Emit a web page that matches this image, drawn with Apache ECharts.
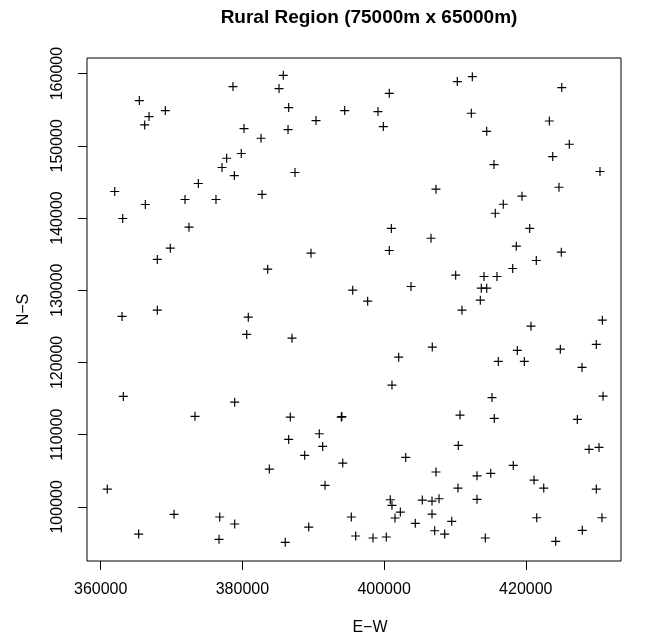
<!DOCTYPE html>
<html>
<head>
<meta charset="utf-8">
<script src="https://cdn.jsdelivr.net/npm/echarts@6/dist/echarts.min.js"></script>
<style>
  html, body { margin: 0; padding: 0; background: #fff; }
  #chart { width: 651px; height: 637px; }
</style>
</head>
<body>
<div id="chart"></div>
<script>
// Sample site locations (metres, projected grid)
const eastings = [
  378670, 365450, 366820, 369120, 366210, 380230, 382630, 379840, 377780, 377120,
  378860, 373780, 361980, 366300, 371900, 376270, 382770, 363110, 372460,
  385770, 385170, 400730, 386530, 394440, 399140, 390390, 399890, 386440, 387420,
  407320, 401020,
  410330, 412450, 425070, 412310, 423320, 414480, 426140, 423800, 415510, 430470,
  424680, 419460, 416820, 415690, 420550,
  369820, 367990, 383570, 363010, 367990, 380830, 380610, 363190, 378910,
  406620, 389680, 400730, 395570, 397680, 403800, 387000, 406800, 402060, 401110,
  418660, 425010, 421480, 418150, 410100, 414100, 415930, 413720, 414480, 413580,
  410990, 420730, 430800, 429950, 418800, 424870, 416120, 419790, 427930, 415230,
  430900,
  373310, 360930, 370350, 376800, 378910, 365360, 376700,
  386760, 393960, 394040, 390850, 386530, 391330, 388790, 403050, 383800, 394160,
  391660, 400870, 401110, 405390, 402290, 401540, 404400, 395370, 389360, 395990,
  398430, 400310, 386050,
  410710, 415550, 427270, 410470, 428920, 430330, 407320, 413110, 415050, 418230,
  421160, 422530, 410430, 429950, 406760, 407750, 413110, 406760, 409540, 421540,
  430750, 407140, 408550, 414280, 427970, 424220
];
const northings = [
  158200, 156260, 154050, 154880, 152890, 152390, 151050, 148930, 148280, 146990,
  145880, 144780, 143670, 141870, 142560, 142560, 143270, 139930, 138730,
  159760, 157920, 157270, 155290, 154880, 154740, 153490, 152660, 152250, 146300,
  143990, 138560,
  158890, 159580, 158060, 154510, 153440, 152010, 150210, 148510, 147400, 146440,
  144260, 143020, 141910, 140660, 138560,
  135820, 134260, 132910, 126370, 127240, 126270, 123880, 115290, 114500,
  137200, 135130, 135500, 130010, 128480, 130520, 123360, 122120, 120730, 116860,
  136100, 135270, 134120, 133010, 132080, 131900, 131900, 130280, 130280, 128620,
  127240, 125020, 125850, 122490, 121660, 121840, 120140, 120140, 119310, 115130,
  115330,
  112530, 102460, 98960, 98590, 97620, 96230, 95500,
  112430, 112430, 112500, 110120, 109340, 108370, 107130, 106850, 105230, 106060,
  102980, 100980, 100210, 100940, 99280, 98450, 97720, 98590, 97200, 95960,
  95680, 95820, 95090,
  112710, 112250, 112110, 108510, 107960, 108230, 104820, 104300, 104640, 105740,
  103710, 102600, 102600, 102460, 100800, 101120, 101040, 99000, 97990, 98490,
  98490, 96690, 96230, 95680, 96750, 95220
];

const xTicks = [360000, 380000, 400000, 420000];
const yTicks = [100000, 110000, 120000, 130000, 140000, 150000, 160000];

const titleText = 'Rural Region (75000m x 65000m)';
const xName = 'E\u2212W';
const yName = 'N\u2212S';

const FONT = '"Liberation Sans", Arial, Helvetica, sans-serif';

// plot region (pixels) and axis limits
const box = { left: 87, top: 58, right: 621, bottom: 561 };
const xLim = [358066, 433435];
const yLim = [92500, 162160];

const points = eastings.map((e, i) => [e, northings[i]]);

// thin "+" marker
const plusPath = 'path://M0,4.35 L4.35,4.35 L4.35,0 L5.65,0 L5.65,4.35 L10,4.35 L10,5.65 L5.65,5.65 L5.65,10 L4.35,10 L4.35,5.65 L0,5.65 Z';

const chart = echarts.init(document.getElementById('chart'), null, { renderer: 'canvas' });
chart.setOption({
  animation: false,
  backgroundColor: '#ffffff',
  grid: {
    show: true,
    left: box.left,
    top: box.top,
    width: box.right - box.left,
    height: box.bottom - box.top,
    borderColor: '#000',
    borderWidth: 1,
    backgroundColor: 'transparent',
    containLabel: false
  },
  xAxis: {
    type: 'value',
    min: xLim[0],
    max: xLim[1],
    axisLine: { show: false },
    splitLine: { show: false },
    axisTick: {
      show: true, inside: false, length: 9,
      lineStyle: { color: '#000', width: 1 },
      customValues: xTicks
    },
    axisLabel: {
      show: true, color: '#000', fontSize: 16, fontFamily: FONT,
      margin: 21,
      customValues: xTicks,
      formatter: v => String(v)
    }
  },
  yAxis: {
    type: 'value',
    min: yLim[0],
    max: yLim[1],
    axisLine: { show: false },
    splitLine: { show: false },
    axisTick: {
      show: true, inside: false, length: 9,
      lineStyle: { color: '#000', width: 1 },
      customValues: yTicks
    },
    axisLabel: {
      show: true, color: '#000', fontSize: 16, fontFamily: FONT,
      rotate: 90, margin: 21,
      customValues: yTicks,
      formatter: v => String(v)
    }
  },
  series: [{
    type: 'scatter',
    data: points,
    symbol: plusPath,
    symbolSize: 9,
    itemStyle: { color: '#000', opacity: 1 },
    emphasis: { disabled: true },
    silent: true
  }],
  graphic: [
    {
      type: 'text',
      x: 369, y: 18,
      style: {
        text: titleText, fill: '#000', font: 'bold 19px ' + FONT,
        textAlign: 'center', textVerticalAlign: 'middle'
      }
    },
    {
      type: 'text',
      x: 370, y: 628,
      style: {
        text: xName, fill: '#000', font: '16px ' + FONT,
        textAlign: 'center', textVerticalAlign: 'middle'
      }
    },
    {
      type: 'text',
      x: 24, y: (box.top + box.bottom) / 2,
      rotation: Math.PI / 2,
      style: {
        text: yName, fill: '#000', font: '16px ' + FONT,
        textAlign: 'center', textVerticalAlign: 'middle'
      }
    }
  ]
});
</script>
</body>
</html>
